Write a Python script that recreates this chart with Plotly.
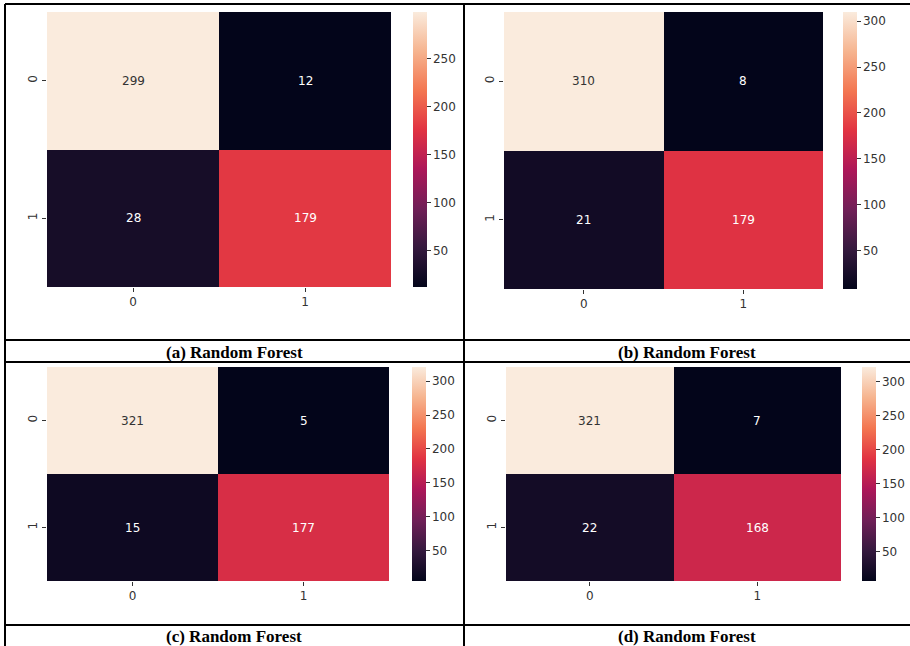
import plotly.graph_objects as go

# ---- data ----
class_labels = ["0", "1"]
cm_a = [[299, 12], [28, 179]]
cm_b = [[310, 8], [21, 179]]
cm_c = [[321, 5], [15, 177]]
cm_d = [[321, 7], [22, 168]]
captions = ["(a) Random Forest", "(b) Random Forest", "(c) Random Forest", "(d) Random Forest"]
cbar_ticks_a = [50, 100, 150, 200, 250]
cbar_ticks_bcd = [50, 100, 150, 200, 250, 300]

W, H = 910, 646

rocket_hex = [
    (0.0, "#03051a"), (1/7, "#35193e"), (2/7, "#701f57"), (3/7, "#ad1759"),
    (4/7, "#e13342"), (5/7, "#f37651"), (6/7, "#f6b48f"), (1.0, "#faebdd"),
]
rocket = [[p, c] for p, c in rocket_hex]


def hex2rgb(h):
    h = h.lstrip("#")
    return [int(h[i:i + 2], 16) / 255 for i in (0, 2, 4)]


def color_at(t):
    for (p0, c0), (p1, c1) in zip(rocket_hex[:-1], rocket_hex[1:]):
        if p0 <= t <= p1:
            f = (t - p0) / (p1 - p0) if p1 > p0 else 0
            a, b = hex2rgb(c0), hex2rgb(c1)
            return [a[i] + (b[i] - a[i]) * f for i in range(3)]
    return hex2rgb(rocket_hex[-1][1])


def lum(rgb):
    out = []
    for v in rgb:
        out.append(v / 12.92 if v <= 0.03928 else ((v + 0.055) / 1.055) ** 2.4)
    return 0.2126 * out[0] + 0.7152 * out[1] + 0.0722 * out[2]


def px(x):
    return x / W


def py(y):
    return 1 - y / H


# panel geometry in pixels: heatmap x0,x1,y0,y1 ; colorbar x
panels = [
    dict(cm=cm_a, hx=(47, 391), hy=(12, 287), cbx=413, ticks=cbar_ticks_a),
    dict(cm=cm_b, hx=(504, 823), hy=(12, 289), cbx=843, ticks=cbar_ticks_bcd),
    dict(cm=cm_c, hx=(47, 389), hy=(367, 581), cbx=412, ticks=cbar_ticks_bcd),
    dict(cm=cm_d, hx=(506, 841), hy=(367, 581), cbx=862, ticks=cbar_ticks_bcd),
]

tickfont = dict(family="DejaVu Sans", size=12, color="#333333")

fig = go.Figure()
annotations = []
for i, p in enumerate(panels):
    n = "" if i == 0 else str(i + 1)
    z = p["cm"]
    flat = [v for row in z for v in row]
    zmin, zmax = min(flat), max(flat)
    y0, y1 = p["hy"]
    fig.add_trace(go.Heatmap(
        z=z, x=[0, 1], y=[0, 1], zmin=zmin, zmax=zmax, colorscale=rocket,
        xaxis="x" + n, yaxis="y" + n, hoverinfo="skip",
        colorbar=dict(
            x=px(p["cbx"]), xanchor="left", xref="paper", xpad=0, ypad=0,
            y=py((y0 + y1) / 2), yanchor="middle", yref="paper",
            len=y1 - y0, lenmode="pixels", thickness=14, thicknessmode="pixels",
            outlinewidth=0, ticks="outside", ticklen=4, tickwidth=1,
            tickcolor="#333333", tickvals=p["ticks"], tickfont=tickfont,
        ),
    ))
    fig.update_layout(**{
        "xaxis" + n: dict(
            domain=[px(p["hx"][0]), px(p["hx"][1])], anchor="y" + n,
            range=[-0.5, 1.5], tickvals=[0, 1], ticktext=class_labels,
            ticks="outside", ticklen=4, tickcolor="#333333", tickfont=tickfont,
            showgrid=False, zeroline=False, showline=False,
        ),
        "yaxis" + n: dict(
            domain=[py(y1), py(y0)], anchor="x" + n,
            range=[1.5, -0.5], tickvals=[0, 1], ticktext=class_labels,
            ticks="outside", ticklen=4, tickcolor="#333333", tickfont=tickfont,
            tickangle=-90, showgrid=False, zeroline=False, showline=False,
        ),
    })
    for r in range(2):
        for c in range(2):
            v = z[r][c]
            t = (v - zmin) / (zmax - zmin)
            col = "#333333" if lum(color_at(t)) > 0.408 else "#ffffff"
            annotations.append(dict(
                x=c, y=r, xref="x" + n, yref="y" + n, text=str(v), showarrow=False,
                font=dict(family="DejaVu Sans", size=12, color=col),
            ))

# captions
cap_pos = [(234.5, 352), (687, 352), (234.5, 636), (687, 636)]
for cap, (cx, cy) in zip(captions, cap_pos):
    annotations.append(dict(
        x=px(cx), y=py(cy), xref="paper", yref="paper", text="<b>" + cap + "</b>",
        showarrow=False, xanchor="center", yanchor="middle",
        font=dict(family="Liberation Serif", size=17, color="#000000"),
    ))

# table lines
shapes = []
for yy in [4, 340, 362, 625]:
    shapes.append(dict(type="line", xref="paper", yref="paper",
                       x0=px(5), x1=px(912), y0=py(yy), y1=py(yy),
                       line=dict(color="#000000", width=2)))
for xx in [5, 464]:
    shapes.append(dict(type="line", xref="paper", yref="paper",
                       x0=px(xx), x1=px(xx), y0=py(4), y1=py(650),
                       line=dict(color="#000000", width=2)))

fig.update_layout(
    width=W, height=H, autosize=False,
    margin=dict(l=0, r=0, t=0, b=0),
    paper_bgcolor="white", plot_bgcolor="white",
    showlegend=False, annotations=annotations, shapes=shapes,
)

fig.write_html(
    "out.html",
    config={"displayModeBar": False, "staticPlot": True},
    post_script="document.body.style.margin='0';document.body.style.overflow='hidden';"
                "document.documentElement.style.overflow='hidden';",
)
